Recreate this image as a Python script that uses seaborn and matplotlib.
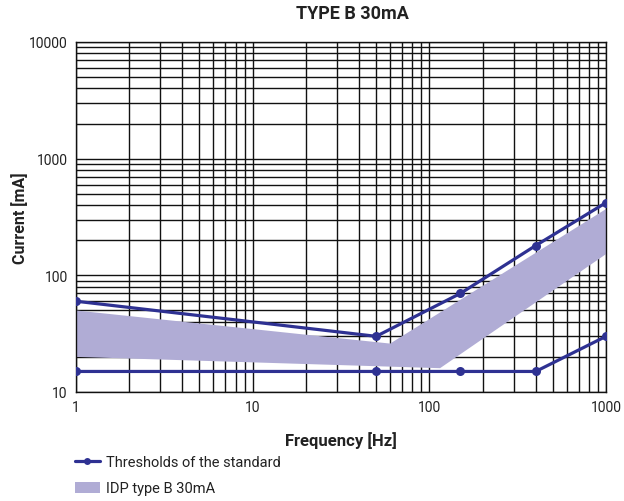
import matplotlib
matplotlib.use("Agg")
import matplotlib.pyplot as plt
import seaborn as sns
import numpy as np
import pandas as pd
from matplotlib.lines import Line2D
from matplotlib.patches import Patch

# Data
upper_freq = [1, 50, 150, 400, 1000]
upper_current = [60, 30, 70, 180, 420]
lower_freq = [1, 50, 150, 400, 1000]
lower_current = [15, 15, 15, 15, 30]
band_top_freq = [1, 60, 1000]
band_top_current = [50, 26, 370]
band_bottom_freq = [1, 115, 1000]
band_bottom_current = [20, 16, 152]

title = "TYPE B 30mA"
xlabel = "Frequency [Hz]"
ylabel = "Current [mA]"
legend_line = "Thresholds of the standard"
legend_band = "IDP type B 30mA"

sns.set_theme(style="white")
plt.rcParams['font.family'] = ['Roboto', 'DejaVu Sans']

line_color = "#2e3192"
band_color = "#b0acd5"

fig = plt.figure(figsize=(6.24, 5.02), dpi=100)
ax = fig.add_axes([76/624, (502-393)/502, (606-76)/624, (393-43)/502])

# band polygon
poly_x = list(band_top_freq) + list(band_bottom_freq[::-1])
poly_y = list(band_top_current) + list(band_bottom_current[::-1])
ax.fill(poly_x, poly_y, color=band_color, lw=0, zorder=2)

df_u = pd.DataFrame({"f": upper_freq, "c": upper_current})
df_l = pd.DataFrame({"f": lower_freq, "c": lower_current})
for d in (df_u, df_l):
    sns.lineplot(data=d, x="f", y="c", ax=ax, color=line_color, lw=2.3,
                 marker="o", markersize=6.5, markeredgewidth=0, zorder=4)

ax.set_xscale("log")
ax.set_yscale("log")
ax.set_xlim(1, 1000)
ax.set_ylim(10, 10000)

ax.set_xticks([1, 10, 100, 1000])
ax.set_xticklabels(["1", "10", "100", "1000"])
ax.set_yticks([10, 100, 1000, 10000])
ax.set_yticklabels(["10", "100", "1000", "10000"])
ax.grid(True, which="both", color="#111111", lw=1.0, zorder=1)
ax.set_axisbelow(True)
ax.tick_params(axis="both", which="both", length=0, labelsize=10, colors="#222222", pad=6)
for s in ax.spines.values():
    s.set_color("#111111")
    s.set_linewidth(1.0)

ax.set_xlabel(xlabel, fontsize=12, fontweight="bold", color="#222222", labelpad=12)
ax.set_ylabel(ylabel, fontsize=11.5, fontweight="bold", color="#222222", labelpad=1)
fig.text(352/624, 1 - 14/502, title, ha="center", va="center",
         fontsize=13, fontweight="bold", color="#222222")

handles = [Line2D([0], [0], color=line_color, lw=2.3, marker="o", markersize=5, markeredgewidth=0),
           Patch(facecolor=band_color, edgecolor="none")]
fig.legend(handles, [legend_line, legend_band], loc="upper left",
           bbox_to_anchor=(75/624, 1 - 456/502), frameon=False, fontsize=10.5,
           borderpad=0, borderaxespad=0,
           handlelength=1.7, handleheight=0.85, handletextpad=0.45,
           labelspacing=0.85, labelcolor="#222222")

fig.savefig("out.png", dpi=100)
